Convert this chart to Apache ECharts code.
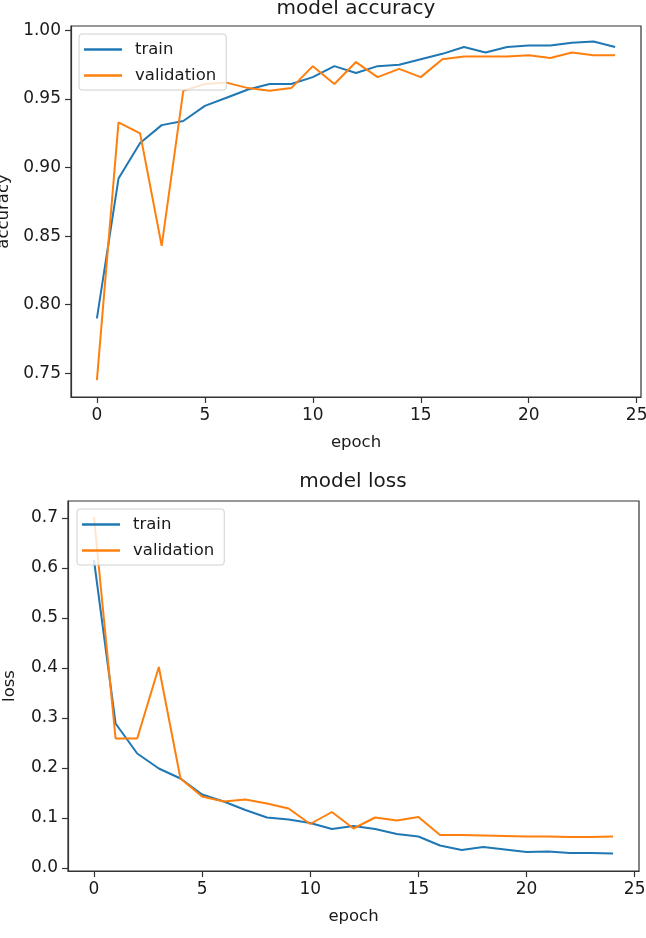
<!DOCTYPE html>
<html><head><meta charset="utf-8">
<script src="https://cdn.jsdelivr.net/npm/echarts@6/dist/echarts.min.js"></script>
<style>html,body{margin:0;padding:0;background:#fff}#c{width:646px;height:938px}</style>
</head><body><div id="c"></div>
<script>
const epochs = [0,1,2,3,4,5,6,7,8,9,10,11,12,13,14,15,16,17,18,19,20,21,22,23,24];
const accTrain = [0.790,0.892,0.918,0.931,0.934,0.945,0.951,0.957,0.961,0.961,0.966,0.974,0.969,0.974,0.975,0.979,0.983,0.988,0.984,0.988,0.989,0.989,0.991,0.992,0.988];
const accVal = [0.745,0.933,0.925,0.843,0.956,0.961,0.962,0.958,0.956,0.958,0.974,0.961,0.977,0.966,0.972,0.966,0.979,0.981,0.981,0.981,0.982,0.980,0.984,0.982,0.982];
const lossTrain = [0.616,0.289,0.229,0.199,0.179,0.147,0.133,0.116,0.101,0.097,0.090,0.078,0.084,0.078,0.068,0.063,0.045,0.036,0.042,0.037,0.032,0.033,0.030,0.030,0.029];
const lossVal = [0.702,0.259,0.259,0.402,0.179,0.143,0.133,0.137,0.129,0.119,0.088,0.112,0.079,0.101,0.095,0.102,0.066,0.066,0.065,0.064,0.063,0.063,0.062,0.062,0.063];
const xTicks = [0,5,10,15,20,25];
const accTicks = [0.75,0.80,0.85,0.90,0.95,1.00];
const lossTicks = [0.0,0.1,0.2,0.3,0.4,0.5,0.6,0.7];

const FONT = 'DejaVu Sans';
const TXT = '#1a1a1a';
const AX = '#333';
function pairs(ys){ return epochs.map((e,i)=>[e, ys[i]]); }
function xAxis(gi){
  return {type:'value', gridIndex:gi, min:-1.2, max:25.2,
    name:'epoch', nameLocation:'middle', nameGap:37,
    nameTextStyle:{fontFamily:FONT,fontSize:16.5,color:TXT},
    axisLine:{show:true,onZero:false,lineStyle:{color:AX,width:1.2}},
    axisTick:{show:true,length:6,customValues:xTicks,lineStyle:{color:AX,width:1.2}},
    axisLabel:{customValues:xTicks,margin:10,fontFamily:FONT,fontSize:17,color:TXT},
    splitLine:{show:false}};
}
function yAxis(gi,min,max,ticks,dec,name,gap){
  return {type:'value', gridIndex:gi, min:min, max:max,
    name:name, nameLocation:'middle', nameGap:gap, nameRotate:90,
    nameTextStyle:{fontFamily:FONT,fontSize:16.5,color:TXT},
    axisLine:{show:true,onZero:false,lineStyle:{color:AX,width:1.2}},
    axisTick:{show:true,length:6,customValues:ticks,lineStyle:{color:AX,width:1.2}},
    axisLabel:{customValues:ticks,margin:10,fontFamily:FONT,fontSize:17,color:TXT,
      formatter:v=>v.toFixed(dec)},
    splitLine:{show:false}};
}
function legend(left,top){
  return {orient:'vertical', left:left, top:top, itemWidth:38, itemHeight:2.5, icon:'rect',
    itemGap:9, padding:[7,10,6,5], backgroundColor:'rgba(255,255,255,0.8)',
    borderColor:'#d0d0d0', borderWidth:1, borderRadius:3,
    textStyle:{fontFamily:FONT,fontSize:16.5,color:TXT,padding:[0,0,0,8]},
    data:['train','validation']};
}
function line(name,color,gi,ys){
  return {name:name,type:'line',xAxisIndex:gi,yAxisIndex:gi,data:pairs(ys),
    showSymbol:false,symbol:'none',lineStyle:{color:color,width:2},itemStyle:{color:color},
    animation:false};
}
const chart = echarts.init(document.getElementById('c'),null,{renderer:'canvas'});
chart.setOption({
  animation:false,
  backgroundColor:'#fff',
  title:[
    {text:'model accuracy',left:356,top:-1,textAlign:'center',padding:0,
     textStyle:{fontFamily:FONT,fontSize:20,fontWeight:'normal',color:TXT}},
    {text:'model loss',left:353,top:472,textAlign:'center',padding:0,
     textStyle:{fontFamily:FONT,fontSize:20,fontWeight:'normal',color:TXT}}
  ],
  legend:[legend(79,34),legend(77,509)],
  grid:[
    {left:71,top:26,width:570,height:371,show:true,borderColor:AX,borderWidth:1.2,containLabel:false,outerBoundsMode:'none'},
    {left:68,top:501,width:571,height:370,show:true,borderColor:AX,borderWidth:1.2,containLabel:false,outerBoundsMode:'none'}
  ],
  xAxis:[xAxis(0),xAxis(1)],
  yAxis:[yAxis(0,0.7327,1.0033,accTicks,2,'accuracy',59),yAxis(1,-0.006,0.734,lossTicks,1,'loss',50)],
  series:[
    line('train','#1f77b4',0,accTrain),
    line('validation','#ff7f0e',0,accVal),
    line('train','#1f77b4',1,lossTrain),
    line('validation','#ff7f0e',1,lossVal)
  ]
});
</script></body></html>
